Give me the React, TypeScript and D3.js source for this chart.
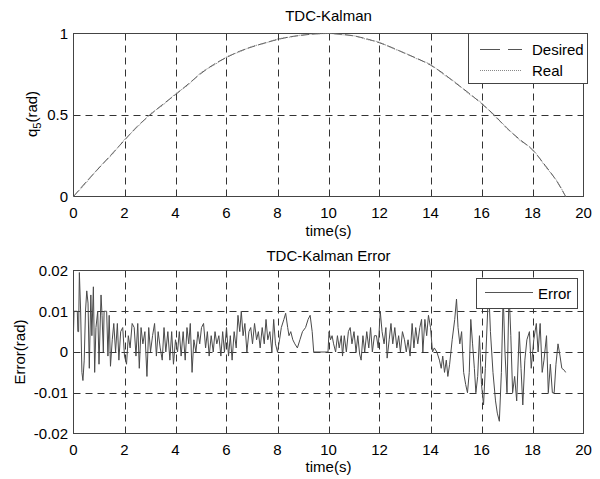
import React, { useEffect, useRef } from "react";
import * as d3 from "d3";

const qTime = [0, 0.5, 1, 1.5, 2, 2.5, 3, 3.5, 4, 4.5, 5, 5.5, 6, 6.5, 7, 7.5, 8, 8.5, 9, 9.5, 10, 10.5, 11, 11.5, 12, 12.5, 13, 13.5, 14, 14.5, 15, 15.5, 16, 16.5, 17, 17.5, 18, 18.5, 19, 19.3];
const qDesired = [0, 0.09, 0.175, 0.26, 0.345, 0.43, 0.5, 0.565, 0.625, 0.69, 0.755, 0.81, 0.853, 0.89, 0.918, 0.942, 0.963, 0.98, 0.99, 0.998, 1.0, 0.995, 0.985, 0.967, 0.943, 0.913, 0.878, 0.845, 0.806, 0.755, 0.694, 0.635, 0.57, 0.5, 0.418, 0.35, 0.286, 0.19, 0.082, 0];
const qReal = [0, 0.085, 0.178, 0.255, 0.35, 0.425, 0.505, 0.56, 0.63, 0.685, 0.76, 0.805, 0.856, 0.887, 0.92, 0.94, 0.966, 0.978, 0.992, 0.997, 1.0, 0.993, 0.986, 0.964, 0.946, 0.91, 0.88, 0.842, 0.81, 0.75, 0.698, 0.63, 0.575, 0.495, 0.422, 0.345, 0.29, 0.185, 0.085, 0];

const errTime = [0.0, 0.02, 0.15, 0.17, 0.2, 0.23, 0.28, 0.33, 0.37, 0.42, 0.47, 0.52, 0.57, 0.62, 0.68, 0.72, 0.78, 0.83, 0.88, 0.95, 1.0, 1.08, 1.12, 1.17, 1.2, 1.3, 1.35, 1.4, 1.45, 1.52, 1.58, 1.65, 1.72, 1.78, 1.85, 1.93, 2.0, 2.08, 2.15, 2.22, 2.3, 2.38, 2.45, 2.52, 2.58, 2.65, 2.72, 2.8, 2.88, 2.95, 3.02, 3.1, 3.18, 3.25, 3.32, 3.4, 3.48, 3.55, 3.62, 3.7, 3.78, 3.85, 3.92, 4.0, 4.08, 4.15, 4.22, 4.3, 4.38, 4.45, 4.52, 4.58, 4.65, 4.72, 4.8, 4.88, 4.95, 5.02, 5.1, 5.18, 5.25, 5.32, 5.4, 5.48, 5.55, 5.62, 5.7, 5.78, 5.85, 5.92, 6.0, 6.08, 6.15, 6.22, 6.3, 6.38, 6.45, 6.52, 6.58, 6.65, 6.72, 6.8, 6.88, 6.95, 7.02, 7.1, 7.18, 7.25, 7.32, 7.4, 7.48, 7.55, 7.62, 7.7, 7.78, 7.85, 7.92, 8.0, 8.08, 8.15, 8.25, 8.32, 8.4, 8.45, 8.52, 8.6, 8.68, 8.78, 8.88, 8.98, 9.1, 9.2, 9.28, 9.36, 9.42, 9.98, 10.02, 10.08, 10.14, 10.2, 10.28, 10.35, 10.42, 10.5, 10.55, 10.62, 10.7, 10.78, 10.85, 10.92, 11.0, 11.08, 11.15, 11.22, 11.28, 11.35, 11.42, 11.5, 11.58, 11.65, 11.72, 11.8, 11.88, 11.95, 12.03, 12.1, 12.18, 12.25, 12.3, 12.38, 12.45, 12.52, 12.6, 12.68, 12.75, 12.82, 12.9, 12.98, 13.05, 13.12, 13.2, 13.28, 13.35, 13.42, 13.5, 13.58, 13.65, 13.7, 13.78, 13.85, 13.92, 14.0, 14.08, 14.15, 14.25, 14.35, 14.42, 14.48, 14.55, 14.62, 14.68, 14.75, 14.85, 14.95, 15.02, 15.08, 15.15, 15.22, 15.3, 15.38, 15.45, 15.52, 15.58, 15.65, 15.72, 15.78, 15.85, 15.92, 16.0, 16.08, 16.15, 16.28, 16.35, 16.45, 16.55, 16.62, 16.7, 16.78, 16.85, 16.92, 17.0, 17.08, 17.15, 17.22, 17.3, 17.38, 17.48, 17.55, 17.62, 17.7, 17.78, 17.88, 17.95, 18.05, 18.15, 18.22, 18.3, 18.38, 18.45, 18.55, 18.62, 18.7, 18.78, 18.85, 18.92, 19.0, 19.08, 19.15, 19.25, 19.3];
const errValue = [0.005, 0.01, 0.01, 0.005, 0.005, 0.0195, 0.01, -0.005, -0.007, -0.002, 0.01, 0.015, 0.012, -0.004, 0.014, 0.004, 0.016, -0.005, 0.006, 0.01, -0.003, 0.014, 0.009, 0.0, 0.01, 0.01, -0.001, 0.009, -0.0035, 0.003, 0.007, 0.0, 0.007, -0.002, 0.005, 0.006, -0.001, -0.003, 0.004, 0.001, 0.007, 0.006, -0.001, 0.007, -0.004, 0.006, 0.002, 0.005, -0.006, 0.006, 0.0, 0.004, 0.007, -0.001, 0.005, 0.001, -0.002, 0.006, 0.0, 0.005, -0.002, 0.005, -0.003, 0.003, 0.0, 0.005, -0.001, 0.005, -0.002, 0.006, 0.002, 0.007, -0.005, 0.003, 0.0, 0.005, 0.002, 0.006, 0.007, 0.001, 0.005, -0.001, 0.004, 0.0, 0.005, 0.002, 0.004, -0.001, 0.005, 0.0, 0.006, -0.001, 0.004, -0.002, 0.005, 0.001, 0.009, 0.005, 0.01, 0.004, 0.007, 0.0, 0.005, 0.006, 0.002, 0.007, 0.003, 0.005, 0.001, 0.006, 0.002, 0.008, 0.003, 0.005, 0.0, 0.008, 0.002, 0.0, 0.003, 0.006, 0.008, 0.0095, 0.006, 0.004, 0.005, 0.003, 0.002, 0.001, 0.003, 0.005, 0.006, 0.008, 0.009, 0.005, 0.0, 0.0, 0.005, 0.003, 0.004, 0.002, 0.0, 0.004, 0.001, 0.004, -0.001, 0.004, 0.0, 0.005, 0.006, 0.002, 0.005, 0.0, 0.004, -0.0005, -0.002, 0.004, 0.0, 0.005, 0.001, 0.006, 0.0, 0.004, 0.004, 0.001, 0.01, 0.005, 0.002, 0.006, -0.0015, 0.003, 0.007, 0.002, 0.006, 0.001, 0.004, 0.0, 0.005, 0.003, 0.0, 0.003, -0.001, 0.007, 0.001, 0.006, 0.002, 0.006, 0.008, 0.0, 0.008, 0.004, 0.009, 0.006, 0.0, 0.001, 0.0, -0.002, -0.004, -0.001, -0.005, -0.002, -0.006, -0.003, 0.003, 0.008, 0.013, 0.006, 0.002, 0.005, -0.005, -0.008, -0.01, -0.005, 0.008, 0.002, -0.004, -0.01, -0.006, 0.004, -0.008, -0.013, -0.004, 0.016, 0.005, -0.005, -0.012, -0.015, -0.017, -0.005, 0.014, 0.0, -0.01, 0.015, 0.004, -0.01, -0.006, -0.012, 0.005, -0.004, -0.013, -0.002, 0.003, 0.005, -0.004, 0.003, 0.007, 0.0, 0.007, -0.005, -0.002, 0.004, -0.01, -0.003, -0.01, -0.01, -0.003, 0.002, -0.001, -0.004, -0.0045, -0.005];

const xTicks = [0, 2, 4, 6, 8, 10, 12, 14, 16, 18, 20];
const qTicks = [0, 0.5, 1];
const qTickLabels = ["0", "0.5", "1"];
const errTicks = [-0.02, -0.01, 0, 0.01, 0.02];
const errTickLabels = ["-0.02", "-0.01", "0", "0.01", "0.02"];

const FONT = "'Liberation Sans', Arial, Helvetica, sans-serif";
const FS = 15;

export default function App() {
  const ref = useRef<SVGSVGElement>(null);

  useEffect(() => {
    const svg = d3.select(ref.current);
    svg.selectAll("*").remove();
    svg.append("rect").attr("width", 600).attr("height", 479).attr("fill", "#fff");

    const x = d3.scaleLinear().domain([0, 20]).range([73.5, 583.5]);

    function panel(opts: {
      y: d3.ScaleLinear<number, number>;
      yTicks: number[];
      yLabels: string[];
      title: string;
      titleY: number;
      xLabelY: number;
      tickLabelY: number;
    }) {
      const { y, yTicks, yLabels } = opts;
      const g = svg.append("g");
      const [y0, y1] = y.range();
      const [x0, x1] = x.range();
      g.selectAll(".vg")
        .data(xTicks.slice(1, -1))
        .enter()
        .append("line")
        .attr("x1", (d) => Math.round(x(d)) + 0.5)
        .attr("x2", (d) => Math.round(x(d)) + 0.5)
        .attr("y1", y1)
        .attr("y2", y0)
        .attr("stroke", "#333")
        .attr("stroke-width", 1)
        .attr("stroke-dasharray", "7,5");
      g.selectAll(".hg")
        .data(yTicks.slice(1, -1))
        .enter()
        .append("line")
        .attr("x1", x0)
        .attr("x2", x1)
        .attr("y1", (d) => Math.round(y(d)) + 0.5)
        .attr("y2", (d) => Math.round(y(d)) + 0.5)
        .attr("stroke", "#333")
        .attr("stroke-width", 1)
        .attr("stroke-dasharray", "7,5");
      g.append("rect")
        .attr("x", x0)
        .attr("y", y1)
        .attr("width", x1 - x0)
        .attr("height", y0 - y1)
        .attr("fill", "none")
        .attr("stroke", "#444")
        .attr("stroke-width", 1);
      g.selectAll(".xt")
        .data(xTicks)
        .enter()
        .append("text")
        .attr("x", (d) => x(d))
        .attr("y", opts.tickLabelY)
        .attr("text-anchor", "middle")
        .attr("font-family", FONT)
        .attr("font-size", FS)
        .text((d) => String(d));
      g.selectAll(".yt")
        .data(yTicks)
        .enter()
        .append("text")
        .attr("x", 68)
        .attr("y", (d) => y(d))
        .attr("dy", "0.35em")
        .attr("text-anchor", "end")
        .attr("font-family", FONT)
        .attr("font-size", FS)
        .text((d, i) => yLabels[i]);
      g.append("text")
        .attr("x", (x0 + x1) / 2)
        .attr("y", opts.titleY)
        .attr("text-anchor", "middle")
        .attr("font-family", FONT)
        .attr("font-size", FS)
        .text(opts.title);
      g.append("text")
        .attr("x", (x0 + x1) / 2)
        .attr("y", opts.xLabelY)
        .attr("text-anchor", "middle")
        .attr("font-family", FONT)
        .attr("font-size", FS)
        .text("time(s)");
      return g;
    }

    // ---------- top panel ----------
    const yTop = d3.scaleLinear().domain([0, 1]).range([196.5, 33.5]);
    const gTop = panel({
      y: yTop,
      yTicks: qTicks,
      yLabels: qTickLabels,
      title: "TDC-Kalman",
      titleY: 21,
      xLabelY: 236,
      tickLabelY: 218,
    });
    const lineTop = (vals: number[]) =>
      d3
        .line<number>()
        .x((_, i) => x(qTime[i]))
        .y((d) => yTop(d))
        .curve(d3.curveMonotoneX)(vals);
    gTop.append("path").attr("d", lineTop(qDesired)).attr("fill", "none")
      .attr("stroke", "#555").attr("stroke-width", 1).attr("stroke-dasharray", "8,3");
    gTop.append("path").attr("d", lineTop(qReal)).attr("fill", "none")
      .attr("stroke", "#888").attr("stroke-width", 1).attr("stroke-dasharray", "1,1");

    const yl1 = gTop.append("text")
      .attr("transform", "translate(37,114) rotate(-90)")
      .attr("text-anchor", "middle")
      .attr("font-family", FONT)
      .attr("font-size", FS);
    yl1.append("tspan").text("q");
    yl1.append("tspan").attr("dy", 4).attr("font-size", 11).text("5");
    yl1.append("tspan").attr("dy", -4).text("(rad)");

    const lgT = gTop.append("g");
    lgT.append("rect").attr("x", 468.5).attr("y", 33.5).attr("width", 119).attr("height", 50)
      .attr("fill", "#fff").attr("stroke", "#444");
    lgT.append("line").attr("x1", 480).attr("x2", 522).attr("y1", 49.5).attr("y2", 49.5)
      .attr("stroke", "#555").attr("stroke-dasharray", "20,8");
    lgT.append("text").attr("x", 532).attr("y", 55).attr("font-family", FONT).attr("font-size", FS).text("Desired");
    lgT.append("line").attr("x1", 480).attr("x2", 522).attr("y1", 70.5).attr("y2", 70.5)
      .attr("stroke", "#888").attr("stroke-dasharray", "1,1");
    lgT.append("text").attr("x", 532).attr("y", 76).attr("font-family", FONT).attr("font-size", FS).text("Real");

    // ---------- bottom panel ----------
    const yBot = d3.scaleLinear().domain([-0.02, 0.02]).range([433.5, 270.5]);
    const gBot = panel({
      y: yBot,
      yTicks: errTicks,
      yLabels: errTickLabels,
      title: "TDC-Kalman Error",
      titleY: 261,
      xLabelY: 472,
      tickLabelY: 455,
    });
    const errLine = d3
      .line<number>()
      .x((_, i) => x(errTime[i]))
      .y((d) => yBot(d));
    gBot.append("path").attr("d", errLine(errValue)).attr("fill", "none")
      .attr("stroke", "#4a4a4a").attr("stroke-width", 1);

    gBot.append("text")
      .attr("transform", "translate(25,352) rotate(-90)")
      .attr("text-anchor", "middle")
      .attr("font-family", FONT)
      .attr("font-size", FS)
      .text("Error(rad)");

    const lgB = gBot.append("g");
    lgB.append("rect").attr("x", 476.5).attr("y", 278.5).attr("width", 101).attr("height", 30)
      .attr("fill", "#fff").attr("stroke", "#444");
    lgB.append("line").attr("x1", 485).attr("x2", 533).attr("y1", 292.5).attr("y2", 292.5)
      .attr("stroke", "#555");
    lgB.append("text").attr("x", 538).attr("y", 299).attr("font-family", FONT).attr("font-size", FS).text("Error");
  }, []);

  return (
    <svg
      ref={ref}
      width={600}
      height={479}
      style={{ position: "absolute", left: 0, top: 0, display: "block" }}
    />
  );
}
